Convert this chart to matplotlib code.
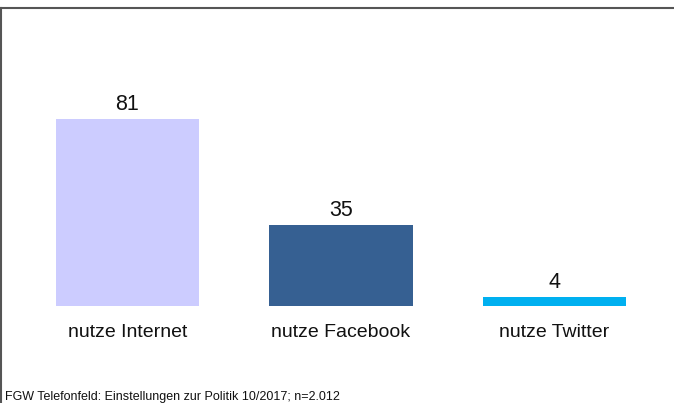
import matplotlib.pyplot as plt
from matplotlib.lines import Line2D

# Daten
kategorien = ['nutze Internet', 'nutze Facebook', 'nutze Twitter']
werte = [81, 35, 4]
farben = ['#CCCCFF', '#366092', '#00B0F0']
quelle = 'FGW Telefonfeld: Einstellungen zur Politik 10/2017; n=2.012'

plt.rcParams['font.family'] = ['Liberation Sans', 'DejaVu Sans']

fig = plt.figure(figsize=(6.74, 4.03), dpi=100)
ax = fig.add_axes([0, 0, 1, 1])

# Skala: 1 Einheit = 2.31 px, Basislinie bei y=306 px
px_pro_einheit = 2.31
basis = 306
ax.set_ylim(-(403 - basis) / px_pro_einheit, basis / px_pro_einheit)
ax.set_xlim(-127.5 / 213.5, (674 - 127.5) / 213.5)

x = range(len(werte))
ax.bar(x, werte, width=0.67, color=farben)

for xi, w, k in zip(x, werte, kategorien):
    ax.text(xi, w + 4, str(w), ha='center', va='baseline', fontsize=15.5, color='#111111')
    ax.text(xi, -13.3, k, ha='center', va='baseline', fontsize=14, color='#111111')

ax.axis('off')

# Rahmen oben und links
fig.add_artist(Line2D([0, 1], [1 - 8 / 403, 1 - 8 / 403], color='#555555', lw=1.5,
                      transform=fig.transFigure))
fig.add_artist(Line2D([0.8 / 674, 0.8 / 674], [0, 1 - 8 / 403], color='#555555', lw=1.5,
                      transform=fig.transFigure))

fig.text(5 / 674, 1 - 400 / 403, quelle, ha='left', va='baseline', fontsize=9, color='#111111')

fig.savefig('out.png', dpi=100)
